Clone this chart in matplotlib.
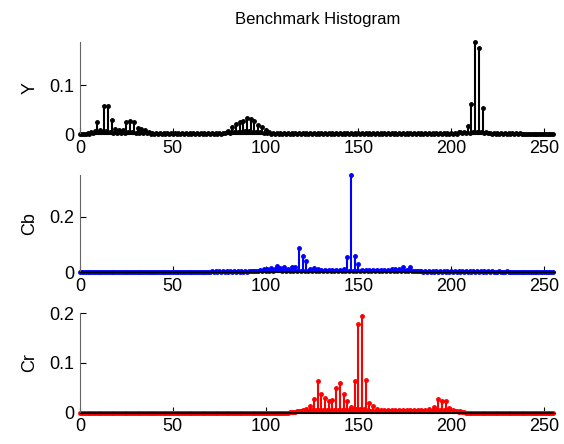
import numpy as np
import matplotlib
matplotlib.use("Agg")
import matplotlib.pyplot as plt

plt.rcParams["font.family"] = ["Liberation Sans", "DejaVu Sans"]

BINS = np.arange(256)

# Y channel histogram (256 bins)
y_hist = [
    0, 0, 0, 0.001, 0.002, 0.001, 0.004, 0.002, 0.006, 0.025, 0.004, 0.008, 0.005, 0.058, 0.006, 0.058,
    0.005, 0.028, 0.003, 0.011, 0.003, 0.009, 0.003, 0.008, 0.003, 0.025, 0.004, 0.026, 0.004, 0.025, 0.003, 0.013,
    0.003, 0.011, 0.002, 0.008, 0.002, 0.004, 0.001, 0.003, 0.001, 0.002, 0.001, 0.003, 0.001, 0.002, 0.001, 0.002,
    0.001, 0.002, 0.001, 0.002, 0.001, 0.003, 0.001, 0.002, 0.001, 0.002, 0.001, 0.002, 0.001, 0.003, 0.001, 0.002,
    0.001, 0.002, 0.001, 0.002, 0.001, 0.003, 0.001, 0.002, 0.001, 0.002, 0.001, 0.002, 0.001, 0.003, 0.002, 0.004,
    0.006, 0.003, 0.014, 0.004, 0.020, 0.005, 0.025, 0.005, 0.026, 0.006, 0.034, 0.006, 0.030, 0.005, 0.026, 0.004,
    0.018, 0.004, 0.015, 0.003, 0.009, 0.002, 0.004, 0.001, 0.002, 0.001, 0.002, 0.001, 0.003, 0.001, 0.002, 0.001,
    0.002, 0.001, 0.002, 0.001, 0.003, 0.001, 0.002, 0.001, 0.002, 0.001, 0.002, 0.001, 0.003, 0.001, 0.002, 0.001,
    0.002, 0.001, 0.002, 0.001, 0.002, 0.001, 0.003, 0.001, 0.002, 0.001, 0.002, 0.001, 0.002, 0.001, 0.003, 0.001,
    0.002, 0.001, 0.003, 0.001, 0.002, 0.001, 0.002, 0.001, 0.002, 0.001, 0.003, 0.001, 0.002, 0.001, 0.002, 0.001,
    0.002, 0.001, 0.002, 0.001, 0.003, 0.001, 0.002, 0.001, 0.002, 0.001, 0.002, 0.001, 0.002, 0.001, 0.003, 0.001,
    0.002, 0.001, 0.002, 0.001, 0.002, 0.001, 0.003, 0.001, 0.002, 0.001, 0.002, 0.001, 0.002, 0.001, 0.002, 0.001,
    0.002, 0.001, 0.002, 0.001, 0.002, 0.001, 0.003, 0.001, 0.002, 0.001, 0.003, 0.001, 0.004, 0.005, 0.002, 0.004,
    0.003, 0.017, 0.003, 0.062, 0.004, 0.189, 0.004, 0.177, 0.004, 0.053, 0.003, 0.004, 0.002, 0.003, 0.001, 0.002,
    0.001, 0.002, 0.001, 0.002, 0.001, 0.002, 0.001, 0.002, 0.001, 0.002, 0.001, 0.002, 0.001, 0.002, 0.001, 0.001,
    0, 0, 0, 0, 0, 0, 0, 0, 0, 0, 0, 0, 0, 0, 0, 0,
]

# Cb channel histogram
cb_hist = [
    0, 0, 0, 0, 0, 0, 0, 0, 0, 0, 0, 0, 0, 0, 0, 0,
    0, 0, 0, 0, 0, 0, 0, 0, 0, 0, 0, 0, 0, 0, 0, 0,
    0, 0, 0, 0, 0, 0, 0, 0, 0, 0, 0, 0, 0, 0, 0, 0,
    0, 0, 0, 0, 0, 0, 0, 0, 0, 0, 0, 0, 0, 0, 0, 0,
    0, 0, 0, 0, 0, 0, 0.001, 0.003, 0.001, 0.003, 0.002, 0.003, 0.002, 0.004, 0.002, 0.003,
    0.002, 0.004, 0.002, 0.003, 0.002, 0.004, 0.002, 0.003, 0.002, 0.004, 0.002, 0.004, 0.003, 0.005, 0.003, 0.006,
    0.004, 0.008, 0.004, 0.012, 0.005, 0.010, 0.005, 0.014, 0.006, 0.012, 0.022, 0.007, 0.014, 0.006, 0.018, 0.006,
    0.012, 0.005, 0.020, 0.006, 0.018, 0.005, 0.088, 0.006, 0.058, 0.005, 0.040, 0.004, 0.010, 0.004, 0.015, 0.004,
    0.010, 0.004, 0.008, 0.003, 0.008, 0.003, 0.007, 0.003, 0.008, 0.003, 0.007, 0.003, 0.008, 0.003, 0.010, 0.004,
    0.055, 0.006, 0.350, 0.006, 0.058, 0.005, 0.028, 0.004, 0.009, 0.003, 0.008, 0.003, 0.007, 0.003, 0.008, 0.003,
    0.007, 0.003, 0.008, 0.003, 0.007, 0.003, 0.008, 0.003, 0.010, 0.004, 0.012, 0.004, 0.010, 0.004, 0.020, 0.005,
    0.008, 0.004, 0.018, 0.004, 0.006, 0.003, 0.005, 0.003, 0.005, 0.002, 0.005, 0.002, 0.004, 0.002, 0.005, 0.002,
    0.004, 0.002, 0.004, 0.002, 0.005, 0.002, 0.004, 0.002, 0.004, 0.002, 0.004, 0.002, 0.003, 0.002, 0.004, 0.002,
    0.003, 0.002, 0.003, 0.001, 0.003, 0, 0.003, 0.001, 0.003, 0.001, 0.003, 0.001, 0.003, 0.001, 0.003, 0.001,
    0.002, 0, 0.003, 0.001, 0.002, 0.001, 0.003, 0.001, 0.002, 0, 0, 0, 0, 0, 0, 0,
    0, 0, 0, 0, 0, 0, 0, 0, 0, 0, 0, 0, 0, 0, 0, 0,
]

# Cr channel histogram
cr_hist = [
    0, 0, 0, 0, 0, 0, 0, 0, 0, 0, 0, 0, 0, 0, 0, 0,
    0, 0, 0, 0, 0, 0, 0, 0, 0, 0, 0, 0, 0, 0, 0, 0,
    0, 0, 0, 0, 0, 0, 0, 0, 0, 0, 0, 0, 0, 0, 0, 0,
    0, 0, 0, 0, 0, 0, 0, 0, 0, 0, 0, 0, 0, 0, 0, 0,
    0, 0, 0, 0, 0, 0, 0, 0, 0, 0, 0, 0, 0, 0, 0, 0,
    0, 0, 0, 0, 0, 0, 0, 0, 0, 0, 0, 0, 0, 0, 0, 0,
    0, 0, 0, 0, 0, 0, 0, 0, 0, 0, 0, 0, 0, 0, 0, 0,
    0, 0.001, 0.001, 0.002, 0.002, 0.003, 0.003, 0.004, 0.005, 0.004, 0.007, 0.004, 0.013, 0.005, 0.028, 0.006,
    0.063, 0.006, 0.038, 0.006, 0.030, 0.005, 0.023, 0.005, 0.026, 0.006, 0.050, 0.006, 0.060, 0.006, 0.038, 0.005,
    0.024, 0.005, 0.011, 0.006, 0.064, 0.008, 0.179, 0.008, 0.194, 0.007, 0.066, 0.005, 0.019, 0.004, 0.013, 0.004,
    0.008, 0.004, 0.006, 0.003, 0.006, 0.003, 0.006, 0.003, 0.005, 0.003, 0.006, 0.003, 0.005, 0.003, 0.006, 0.003,
    0.005, 0.003, 0.006, 0.003, 0.005, 0.003, 0.006, 0.003, 0.005, 0.003, 0.006, 0.004, 0.008, 0.004, 0.006, 0.011,
    0.005, 0.028, 0.006, 0.024, 0.006, 0.024, 0.005, 0.010, 0.004, 0.005, 0.003, 0.004, 0.002, 0.003, 0.001, 0.001,
    0, 0, 0, 0, 0, 0, 0, 0, 0, 0, 0, 0, 0, 0, 0, 0,
    0, 0, 0, 0, 0, 0, 0, 0, 0, 0, 0, 0, 0, 0, 0, 0,
    0, 0, 0, 0, 0, 0, 0, 0, 0, 0, 0, 0, 0, 0, 0, 0,
]

CHANNELS = ["Y", "Cb", "Cr"]
COLORS = ["black", "blue", "red"]
Y_TICKS = [[0, 0.1], [0, 0.2], [0, 0.1, 0.2]]
Y_TOPS = [max(y_hist), max(cb_hist), 0.2]
X_TICKS = [0, 50, 100, 150, 200, 250]

# axes boxes in figure fractions [left, bottom, width, height]
AX_POS = [
    [0.142, 0.698, 0.842, 0.207],
    [0.142, 0.387, 0.842, 0.218],
    [0.142, 0.070, 0.842, 0.225],
]


def style_axis(ax, yticks, ytop):
    ax.set_xlim(0, 256)
    ax.set_ylim(0, ytop)
    ax.set_xticks(X_TICKS)
    ax.set_yticks(yticks)
    ax.set_yticklabels([f"{t:g}" for t in yticks])
    ax.spines["top"].set_visible(False)
    ax.spines["right"].set_visible(False)
    ax.spines["left"].set_color("0.4")
    ax.spines["bottom"].set_color("black")
    ax.tick_params(direction="in", length=4, width=0.8, labelsize=13, pad=4)


def plot_histograms():
    fig = plt.figure(figsize=(5.64, 4.44), dpi=100)
    data = [y_hist, cb_hist, cr_hist]

    for i, (name, color, hist) in enumerate(zip(CHANNELS, COLORS, data)):
        ax = fig.add_axes(AX_POS[i])
        markerline, stemlines, baseline = ax.stem(
            BINS, hist, linefmt="-", markerfmt=".", basefmt="k-")
        stemlines.set_color(color)
        stemlines.set_linewidth(1.5)
        markerline.set_color(color)
        markerline.set_markersize(5)
        baseline.set_linewidth(1.2)
        markerline.set_clip_on(False)
        style_axis(ax, Y_TICKS[i], Y_TOPS[i])
        ax.set_ylabel(name, fontsize=13, labelpad=8)
        if i == 0:
            ax.set_title("Benchmark Histogram", fontsize=12, pad=13)

    fig.savefig("out.png", dpi=100)
    plt.close(fig)


if __name__ == "__main__":
    plot_histograms()
